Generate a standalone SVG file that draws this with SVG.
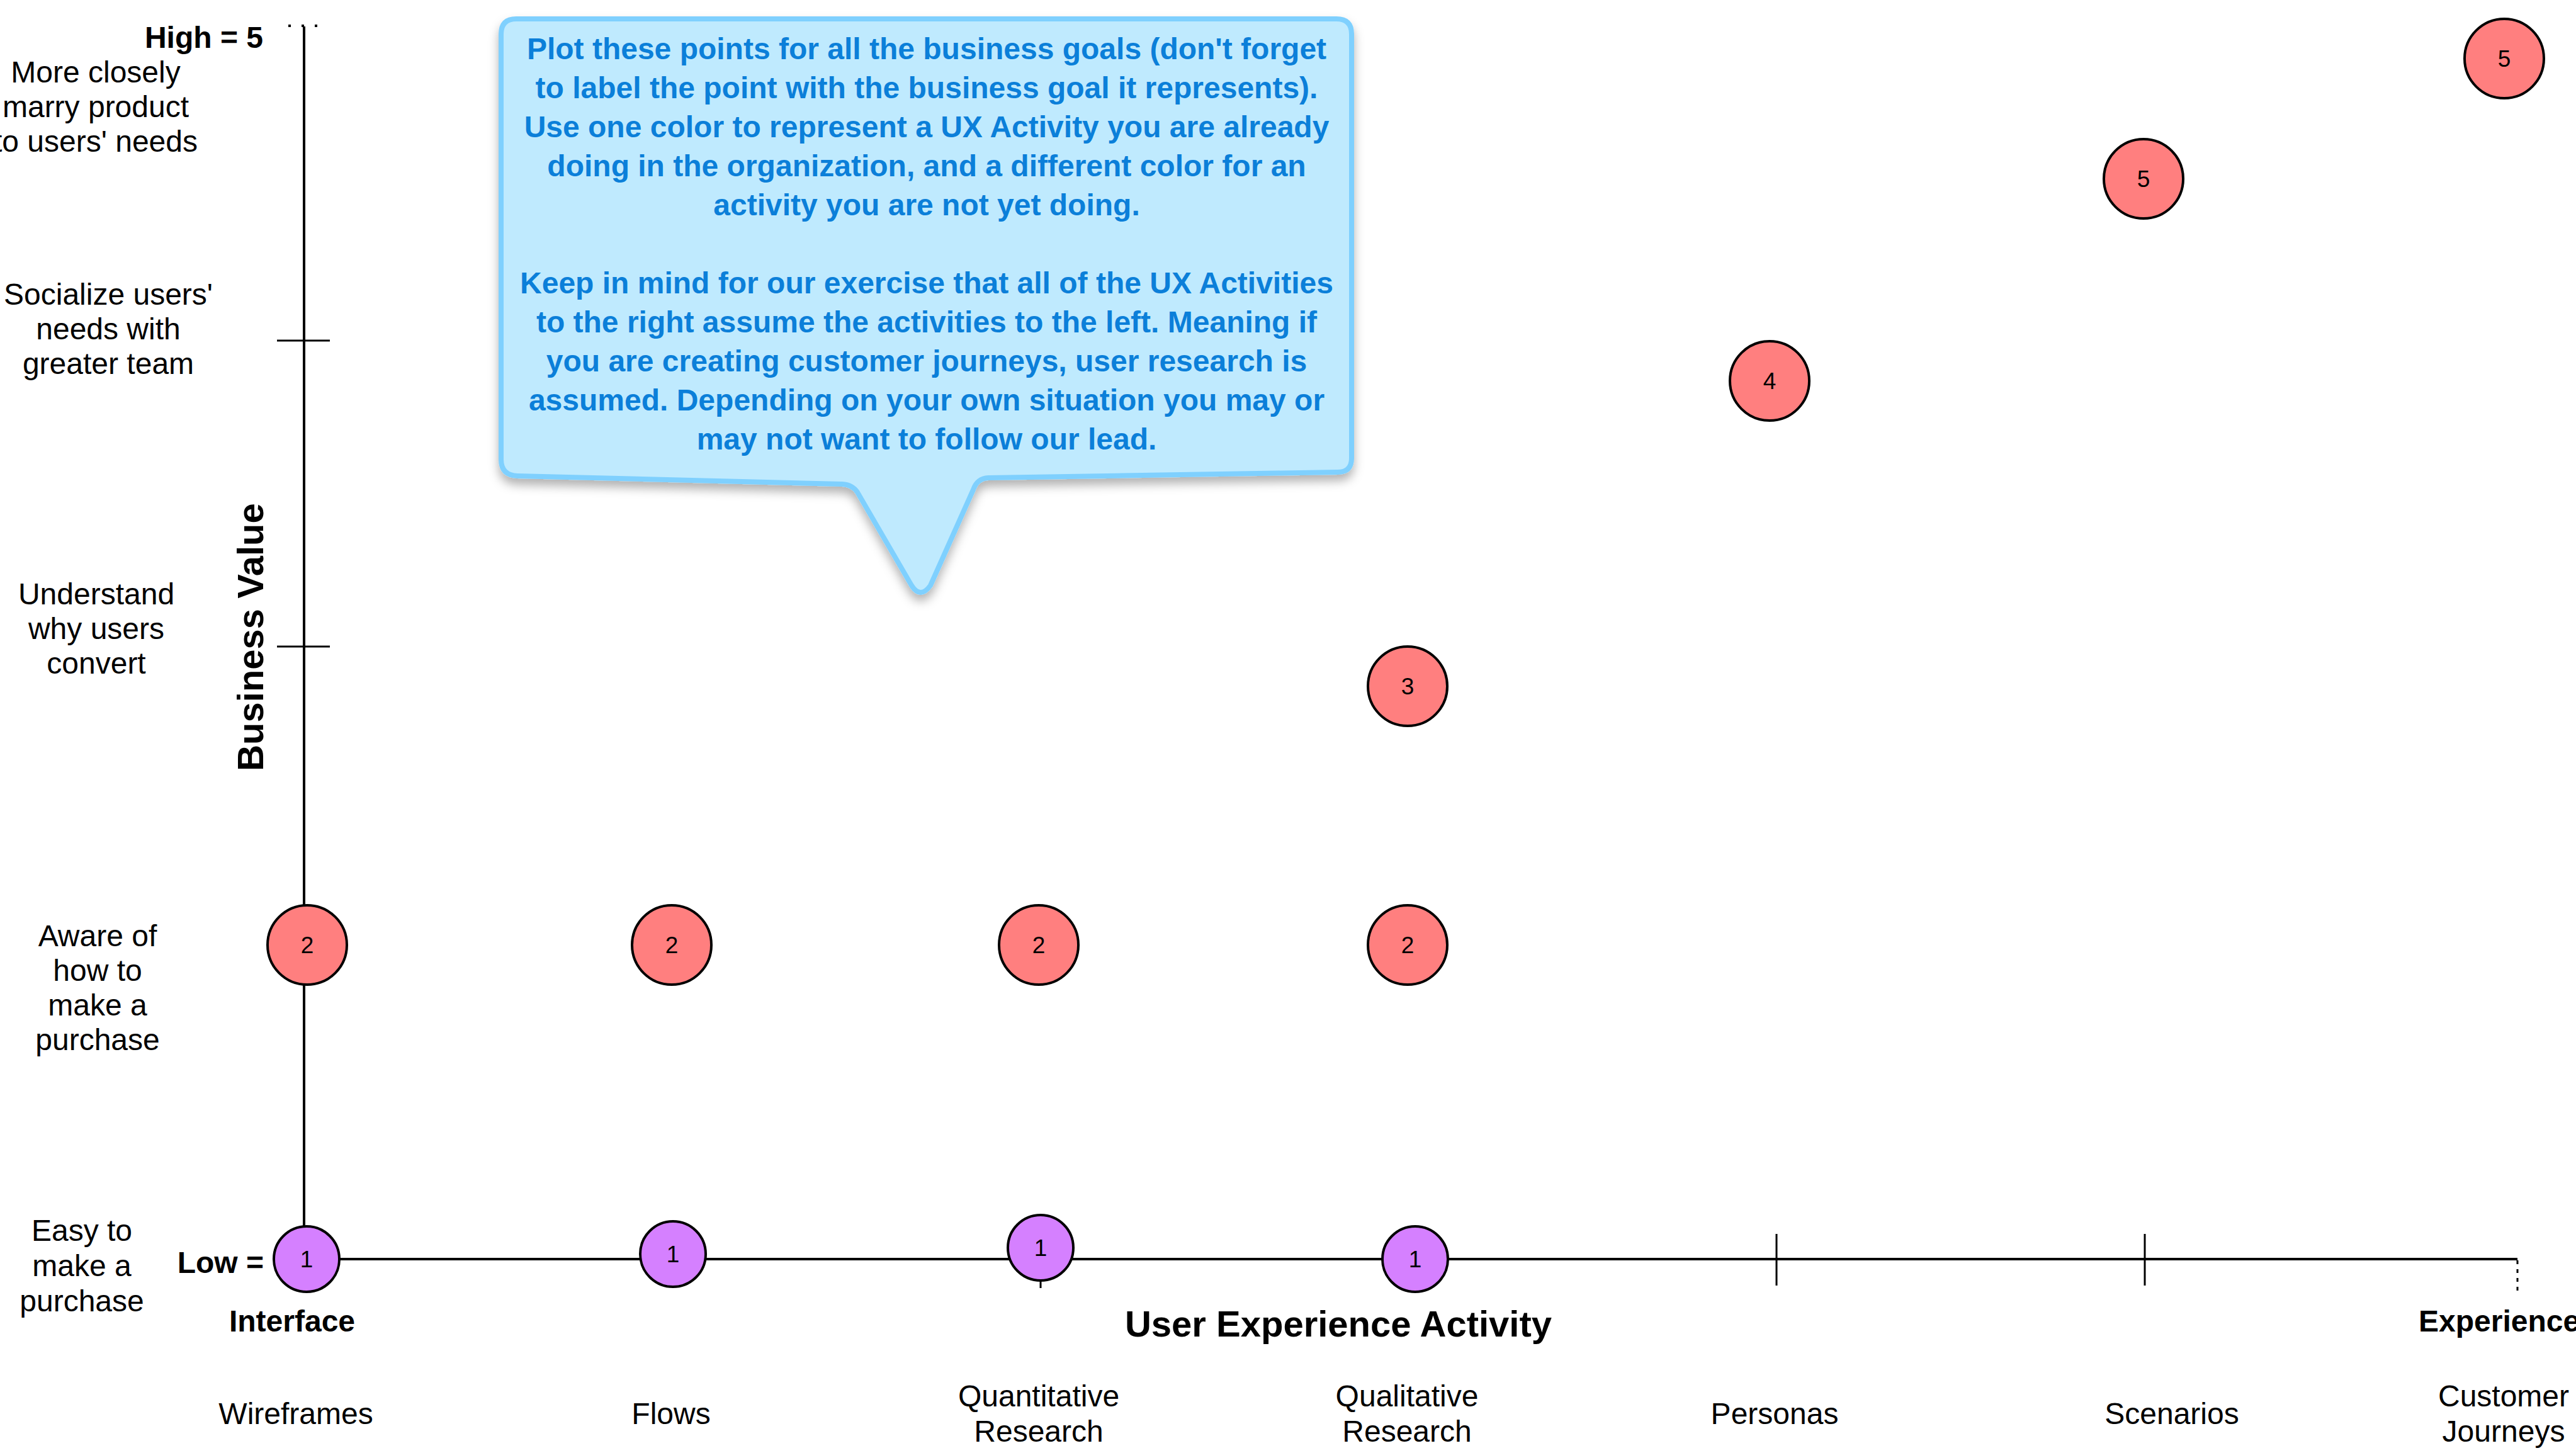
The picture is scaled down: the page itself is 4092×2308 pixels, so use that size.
<svg xmlns="http://www.w3.org/2000/svg" width="4092" height="2308" viewBox="0 0 4092 2308">
<style>
text{font-family:"Liberation Sans",Arial,sans-serif;fill:#000}
.lbl{font-size:48px;text-anchor:middle}
.b{font-weight:bold}
.call{font-size:48px;font-weight:bold;fill:#0b7fd9;text-anchor:middle}
.red{fill:#ff7f7f;stroke:#000;stroke-width:4}
.pur{fill:#d580ff;stroke:#000;stroke-width:4}
.num{font-size:37px;text-anchor:middle}
.axis{stroke:#000;stroke-width:4;fill:none}
.tick{stroke:#000;stroke-width:3;fill:none}
</style>
<defs>
<filter id="sh" x="-10%" y="-10%" width="120%" height="130%">
<feDropShadow dx="0" dy="10" stdDeviation="8" flood-color="#000" flood-opacity="0.3"/>
</filter>
</defs>
<rect width="4092" height="2308" fill="#fff"/>
<g id="connectors">
<line class="axis" x1="483" y1="42" x2="483" y2="2000"/>
<line class="axis" x1="483" y1="2000" x2="3999" y2="2000"/>
<line x1="458" y1="41" x2="512" y2="41" stroke="#000" stroke-width="4" stroke-dasharray="4,17"/>
<line x1="3999" y1="2002" x2="3999" y2="2052" stroke="#000" stroke-width="3" stroke-dasharray="6,8"/>
<line class="tick" x1="440" y1="541" x2="524" y2="541"/>
<line class="tick" x1="440" y1="1027" x2="524" y2="1027"/>
<line class="tick" x1="2822" y1="1960" x2="2822" y2="2042"/>
<line class="tick" x1="3407" y1="1960" x2="3407" y2="2042"/>
<line class="tick" x1="1653" y1="1960" x2="1653" y2="2046"/>
</g>
<g id="callout">
<path d="M820,30 H2123 Q2147,30 2147,54 V728 Q2147,750 2125,750 L1570,759 Q1552,760 1546,778 L1478,930 Q1462,952 1448,930 L1362,782 Q1354,770 1338,769 L822,756 Q796,755 796,730 V54 Q796,30 820,30 Z" fill="#bfeafe" stroke="#7fd0fe" stroke-width="8" stroke-linejoin="round" filter="url(#sh)"/>
<text class="call" x="1472" y="94">Plot these points for all the business goals (don't forget</text>
<text class="call" x="1472" y="156">to label the point with the business goal it represents).</text>
<text class="call" x="1472" y="218">Use one color to represent a UX Activity you are already</text>
<text class="call" x="1472" y="280">doing in the organization, and a different color for an</text>
<text class="call" x="1472" y="342">activity you are not yet doing.</text>
<text class="call" x="1472" y="466">Keep in mind for our exercise that all of the UX Activities</text>
<text class="call" x="1472" y="528">to the right assume the activities to the left. Meaning if</text>
<text class="call" x="1472" y="590">you are creating customer journeys, user research is</text>
<text class="call" x="1472" y="652">assumed. Depending on your own situation you may or</text>
<text class="call" x="1472" y="714">may not want to follow our lead.</text>
</g>
<g id="y-labels">
<text class="b" x="418" y="76" font-size="48" text-anchor="end">High = 5</text>
<text class="lbl"><tspan x="152" y="131">More closely</tspan><tspan x="152" y="186">marry product</tspan><tspan x="152" y="241">to users' needs</tspan></text>
<text class="lbl"><tspan x="172" y="484">Socialize users'</tspan><tspan x="172" y="539">needs with</tspan><tspan x="172" y="594">greater team</tspan></text>
<text class="lbl"><tspan x="153" y="960">Understand</tspan><tspan x="153" y="1015">why users</tspan><tspan x="153" y="1070">convert</tspan></text>
<text class="lbl"><tspan x="155" y="1503">Aware of</tspan><tspan x="155" y="1558">how to</tspan><tspan x="155" y="1613">make a</tspan><tspan x="155" y="1668">purchase</tspan></text>
<text class="lbl"><tspan x="130" y="1971">Easy to</tspan><tspan x="130" y="2027">make a</tspan><tspan x="130" y="2083">purchase</tspan></text>
<text class="b" x="419" y="2022" font-size="48" text-anchor="end">Low =</text>
<text class="b" font-size="58" text-anchor="middle" transform="translate(418,1012) rotate(-90)">Business Value</text>
</g>
<g id="x-labels">
<text class="lbl b" x="464" y="2115">Interface</text>
<text class="b" x="3842" y="2115" font-size="48">Experience</text>
<text class="b" x="2126" y="2123" font-size="58" text-anchor="middle">User Experience Activity</text>
<text class="lbl" x="470" y="2262">Wireframes</text>
<text class="lbl" x="1066" y="2262">Flows</text>
<text class="lbl"><tspan x="1650" y="2234">Quantitative</tspan><tspan x="1650" y="2290">Research</tspan></text>
<text class="lbl"><tspan x="2235" y="2234">Qualitative</tspan><tspan x="2235" y="2290">Research</tspan></text>
<text class="lbl" x="2819" y="2262">Personas</text>
<text class="lbl" x="3450" y="2262">Scenarios</text>
<text class="lbl"><tspan x="3977" y="2234">Customer</tspan><tspan x="3977" y="2290">Journeys</tspan></text>
</g>
<g id="p1-wireframes"><circle class="pur" cx="487" cy="2000" r="52"/><text class="num" x="487" y="2013">1</text></g>
<g id="p1-flows"><circle class="pur" cx="1069" cy="1992" r="52"/><text class="num" x="1069" y="2005">1</text></g>
<g id="p1-quant"><circle class="pur" cx="1653" cy="1982" r="52"/><text class="num" x="1653" y="1995">1</text></g>
<g id="p1-qual"><circle class="pur" cx="2248" cy="2000" r="52"/><text class="num" x="2248" y="2013">1</text></g>
<g id="p2-wireframes"><circle class="red" cx="488" cy="1501" r="63"/><text class="num" x="488" y="1514">2</text></g>
<g id="p2-flows"><circle class="red" cx="1067" cy="1501" r="63"/><text class="num" x="1067" y="1514">2</text></g>
<g id="p2-quant"><circle class="red" cx="1650" cy="1501" r="63"/><text class="num" x="1650" y="1514">2</text></g>
<g id="p2-qual"><circle class="red" cx="2236" cy="1501" r="63"/><text class="num" x="2236" y="1514">2</text></g>
<g id="p3-qual"><circle class="red" cx="2236" cy="1090" r="63"/><text class="num" x="2236" y="1103">3</text></g>
<g id="p4-personas"><circle class="red" cx="2811" cy="605" r="63"/><text class="num" x="2811" y="618">4</text></g>
<g id="p5-scenarios"><circle class="red" cx="3405" cy="284" r="63"/><text class="num" x="3405" y="297">5</text></g>
<g id="p5-journeys"><circle class="red" cx="3978" cy="93" r="63"/><text class="num" x="3978" y="106">5</text></g>
</svg>
